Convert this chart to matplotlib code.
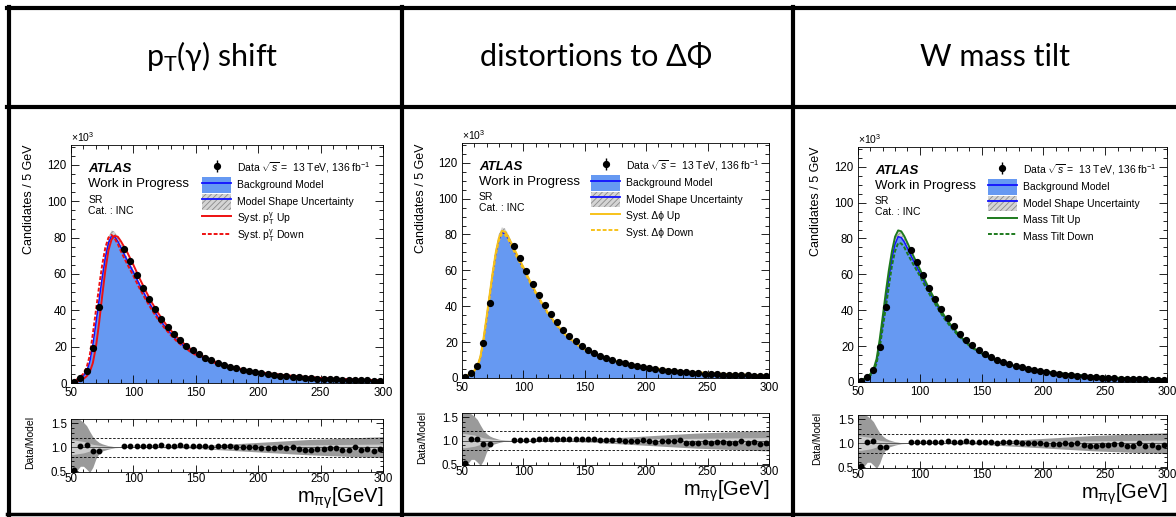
import numpy as np
import matplotlib
matplotlib.use('Agg')
import matplotlib.pyplot as plt
from matplotlib.lines import Line2D
from matplotlib.patches import Patch
from matplotlib.ticker import MultipleLocator

plt.rcParams['font.family'] = ['Liberation Sans', 'DejaVu Sans']
plt.rcParams['mathtext.fontset'] = 'custom'
plt.rcParams['mathtext.rm'] = 'Liberation Sans'
plt.rcParams['mathtext.it'] = 'Liberation Sans:italic'
plt.rcParams['mathtext.bf'] = 'Liberation Sans:bold'
plt.rcParams['hatch.linewidth'] = 0.6

# ---- data (x1000 candidates per 5 GeV bin), blinded bins 75-90 GeV ----
nan = np.nan
bin_centers = np.arange(52.5, 300, 5)
data_vals = [0.5, 2.6, 6.5, 19.5, 42, nan, nan, nan,
             73.5, 67, 59.5, 52.5, 46, 40.5, 35.5, 31, 27, 23.5,
             20.6, 18.0, 15.8, 14.0, 12.5, 11.2, 10.0, 9.0, 8.1, 7.3,
             6.6, 6.0, 5.4, 4.9, 4.5, 4.1, 3.75, 3.45, 3.1, 2.85,
             2.6, 2.45, 2.25, 2.1, 1.95, 1.8, 1.65, 1.6, 1.45, 1.38, 1.28, 1.22]
ratio_vals = [0.52, 1.03, 1.04, 0.93, 0.92, nan, nan, nan,
              1.02, 1.02, 1.02, 1.02, 1.03, 1.03, 1.04, 1.03, 1.03, 1.04,
              1.03, 1.03, 1.03, 1.03, 1.01, 1.02, 1.02, 1.02, 1.00, 1.00,
              1.00, 1.01, 0.99, 0.98, 0.99, 1.00, 0.99, 1.01, 0.96, 0.95,
              0.94, 0.97, 0.96, 0.98, 0.98, 0.95, 0.95, 1.00, 0.94, 0.97, 0.93, 0.96]

# ---- background model curves ----
x_model = [50, 52.5, 55, 57.5, 60, 62.5, 65, 67.5, 70, 72.5, 75, 77.5, 80, 82.5,
           85, 87.5, 90, 95, 100, 105, 110, 115, 120, 125, 130, 135, 140, 145,
           150, 160, 170, 180, 190, 200, 220, 240, 260, 280, 300]
model = [0.3, 1.0, 1.6, 2.55, 4.0, 6.3, 11.5, 21, 33, 45.6, 58, 69, 77, 81,
         80.5, 78, 74.5, 67.5, 61, 54, 47.5, 41.5, 36, 31.3, 27.2, 23.6, 20.6, 18.0,
         15.9, 12.6, 10.2, 8.4, 7.0, 5.9, 4.3, 3.15, 2.35, 1.8, 1.35]
model_unc = [0.1, 0.2, 0.3, 0.4, 0.5, 0.7, 1.0, 1.5, 2.0, 2.5, 2.8, 3.0, 3.0, 3.0,
             2.8, 2.5, 2.2, 1.8, 1.5, 1.3, 1.1, 0.9, 0.8, 0.7, 0.6, 0.5, 0.45, 0.4,
             0.35, 0.3, 0.25, 0.2, 0.18, 0.15, 0.12, 0.1, 0.08, 0.06, 0.05]

pt_up = [0.1, 0.4, 0.8, 1.4, 2.3, 3.7, 6.0, 11, 20, 33, 48, 62, 73, 79,
         81, 80.5, 78, 72, 65, 57.5, 50.5, 44, 38.3, 33.3, 29, 25.2, 22, 19.2,
         16.8, 13.2, 10.6, 8.7, 7.2, 6.0, 4.35, 3.2, 2.4, 1.82, 1.37]
pt_down = [0.4, 1.3, 2.1, 3.3, 5.2, 8.5, 15, 27, 40, 53, 65, 74.5, 80, 81.5,
           79.5, 76.5, 72.5, 65.5, 59, 52, 45.8, 40, 34.8, 30.2, 26.3, 22.8, 20, 17.5,
           15.4, 12.2, 9.9, 8.2, 6.85, 5.8, 4.25, 3.1, 2.3, 1.78, 1.33]
dphi_up = [0.3, 1.0, 1.7, 2.7, 4.2, 6.6, 12, 22, 34, 46.5, 59, 70, 78, 82,
           81.5, 79, 75.5, 68.5, 61.8, 54.6, 48, 42, 36.4, 31.6, 27.5, 23.8, 20.8, 18.2,
           16.0, 12.7, 10.3, 8.45, 7.05, 5.95, 4.32, 3.17, 2.36, 1.81, 1.36]
dphi_down = [0.3, 1.0, 1.6, 2.5, 3.9, 6.1, 11.2, 20.5, 32.5, 45, 57.5, 68.5, 76.5, 80.5,
             80, 77.5, 74, 67, 60.6, 53.7, 47.2, 41.3, 35.8, 31.1, 27.0, 23.5, 20.5, 17.9,
             15.8, 12.5, 10.15, 8.35, 6.97, 5.87, 4.28, 3.13, 2.34, 1.79, 1.34]
tilt_up = [0.35, 1.1, 1.8, 2.85, 4.5, 7.0, 12.8, 23.5, 36.5, 50, 62.5, 73, 81, 84.5,
           84, 81.2, 77.5, 70, 63, 55.6, 48.8, 42.5, 36.8, 31.9, 27.7, 24.0, 20.9, 18.2,
           16.0, 12.6, 10.15, 8.35, 6.95, 5.85, 4.25, 3.1, 2.3, 1.76, 1.32]
tilt_down = [0.25, 0.9, 1.45, 2.3, 3.6, 5.7, 10.3, 19, 30, 41.5, 53.5, 65, 73, 77.5,
             77.2, 75, 71.6, 65.2, 59.2, 52.5, 46.3, 40.5, 35.2, 30.7, 26.7, 23.2, 20.3, 17.8,
             15.8, 12.6, 10.25, 8.45, 7.05, 5.95, 4.35, 3.2, 2.4, 1.84, 1.38]

# ---- ratio panel uncertainty bands ----
x_band = [50, 52.5, 55, 57.5, 60, 62.5, 65, 67.5, 70, 72.5, 75, 80, 85, 90,
          100, 120, 140, 160, 180, 200, 220, 240, 260, 280, 300]
dark_hi = [1.62, 1.62, 1.6, 1.57, 1.52, 1.45, 1.33, 1.22, 1.15, 1.1, 1.07, 1.03, 1.01, 1.005,
           1.005, 1.008, 1.015, 1.04, 1.07, 1.1, 1.13, 1.16, 1.18, 1.2, 1.22]
dark_lo = [0.45, 0.45, 0.52, 0.6, 0.6, 0.54, 0.47, 0.58, 0.76, 0.87, 0.92, 0.96, 0.99, 0.995,
           0.995, 0.992, 0.985, 0.96, 0.93, 0.9, 0.87, 0.84, 0.82, 0.8, 0.78]
light_hi = [1.15, 1.15, 1.14, 1.13, 1.12, 1.1, 1.08, 1.06, 1.05, 1.04, 1.03, 1.02, 1.01, 1.005,
            1.005, 1.01, 1.02, 1.03, 1.035, 1.04, 1.045, 1.05, 1.055, 1.06, 1.065]
light_lo = [0.85, 0.85, 0.86, 0.87, 0.88, 0.9, 0.92, 0.94, 0.95, 0.96, 0.97, 0.98, 0.99, 0.995,
            0.995, 0.99, 0.98, 0.97, 0.965, 0.96, 0.955, 0.95, 0.945, 0.94, 0.935]

headers = ['p$_\\mathregular{T}$(γ) shift', 'distortions to ΔΦ', 'W mass tilt']
header_x = [212, 596, 995]

panels = [
    dict(up=pt_up, down=pt_down, color='#ee1111',
         lab_up='Syst. p$_\\mathregular{T}^\\mathregular{γ}$ Up',
         lab_down='Syst. p$_\\mathregular{T}^\\mathregular{γ}$ Down',
         main=(71, 145, 383, 383), ratio=(71, 419, 383, 472)),
    dict(up=dphi_up, down=dphi_down, color='#f7c21a',
         lab_up='Syst. Δϕ Up', lab_down='Syst. Δϕ Down',
         main=(462, 143, 769, 378), ratio=(462, 413, 769, 465)),
    dict(up=tilt_up, down=tilt_down, color='#1d7a1d',
         lab_up='Mass Tilt Up', lab_down='Mass Tilt Down',
         main=(858, 147, 1167, 382), ratio=(858, 415, 1167, 468)),
]

W, H = 1176, 517
BLUE_FILL = '#6699f2'
BLUE_LINE = '#1010ff'


def box(l, t, r, b):
    return [l / W, 1 - b / H, (r - l) / W, (b - t) / H]


def style_axes(ax, ymajor, yminor):
    ax.set_xlim(50, 300)
    ax.xaxis.set_major_locator(MultipleLocator(50))
    ax.xaxis.set_minor_locator(MultipleLocator(10))
    ax.yaxis.set_major_locator(MultipleLocator(ymajor))
    ax.yaxis.set_minor_locator(MultipleLocator(yminor))
    ax.tick_params(which='both', direction='in', top=True, right=True,
                   labelsize=8.3, width=0.6, pad=3)
    ax.tick_params(which='major', length=6)
    ax.tick_params(which='minor', length=3)
    for s in ax.spines.values():
        s.set_linewidth(0.6)


fig = plt.figure(figsize=(W / 100, H / 100), dpi=100)

# table frame
def hline(y, x0, x1, lw=3):
    fig.add_artist(Line2D([x0 / W, x1 / W], [1 - y / H, 1 - y / H], color='k', lw=lw))

def vline(x, y0, y1, lw=3):
    fig.add_artist(Line2D([x / W, x / W], [1 - y0 / H, 1 - y1 / H], color='k', lw=lw))

hline(8, 7, W)
hline(107, 7, W)
hline(514, 7, W, lw=2.5)
vline(9, 6.5, 517)
vline(402, 6.5, 517)
vline(793, 6.5, 517)

for txt, hx in zip(headers, header_x):
    fig.text(hx / W, 1 - 57 / H, txt, ha='center', va='center', fontsize=22,
             family=['Lato', 'DejaVu Sans'])

for p in panels:
    ax = fig.add_axes(box(*p['main']))
    unc_hi = [m + u for m, u in zip(model, model_unc)]
    unc_lo = [m - u for m, u in zip(model, model_unc)]
    ax.fill_between(x_model, unc_lo, unc_hi, facecolor='#d4d4d4', edgecolor='#8a8a8a',
                    hatch='//////', lw=0)
    ax.fill_between(x_model, 0, model, color=BLUE_FILL, lw=0)
    ax.plot(x_model, model, color=BLUE_LINE, lw=1.1)
    ax.plot(x_model, p['down'], color=p['color'], lw=1.4, ls=(0, (2, 1)))
    ax.plot(x_model, p['up'], color=p['color'], lw=1.4)
    ax.plot(bin_centers, data_vals, 'o', color='k', ms=4.2)
    ax.set_ylim(0, 131)
    style_axes(ax, 20, 5)
    ax.set_ylabel('Candidates / 5 GeV', fontsize=9, loc='top')
    ax.yaxis.set_label_coords(-0.115, 1.0)
    ax.text(0.0, 1.005, '$\\times$10$^3$', transform=ax.transAxes, fontsize=7.5,
            va='bottom', ha='left')
    ax.text(0.055, 0.90, 'ATLAS', transform=ax.transAxes, fontsize=9.5,
            fontweight='bold', fontstyle='italic', va='center')
    ax.text(0.055, 0.835, 'Work in Progress', transform=ax.transAxes, fontsize=9.5,
            va='center')
    ax.text(0.055, 0.77, 'SR', transform=ax.transAxes, fontsize=7.5, va='center')
    ax.text(0.055, 0.724, 'Cat. : INC', transform=ax.transAxes, fontsize=7.5,
            va='center')

    h_data = (Line2D([], [], color='k', marker='|', ms=9, ls='none', mew=1),
              Line2D([], [], color='k', marker='o', ms=4.2, ls='none'))
    h_bkg = (Patch(facecolor=BLUE_FILL, lw=0), Line2D([], [], color=BLUE_LINE, lw=1.3))
    h_unc = (Patch(facecolor='#d4d4d4', edgecolor='#8a8a8a', hatch='//////', lw=0),
             Line2D([], [], color=BLUE_LINE, lw=1.3))
    h_up = Line2D([], [], color=p['color'], lw=1.4)
    h_dn = Line2D([], [], color=p['color'], lw=1.4, ls=(0, (2, 1)))
    ax.legend([h_data, h_bkg, h_unc, h_up, h_dn],
              ['Data $\\sqrt{s}$ =  13 TeV, 136 fb$^{-1}$', 'Background Model',
               'Model Shape Uncertainty', p['lab_up'], p['lab_down']],
              loc='upper left', bbox_to_anchor=(0.42, 0.935), frameon=False,
              fontsize=7.5, handlelength=2.8, handleheight=1.95, handletextpad=0.6,
              labelspacing=0.08, borderpad=0, borderaxespad=0)

    rx = fig.add_axes(box(*p['ratio']))
    rx.fill_between(x_band, dark_lo, dark_hi, color='#9a9a9a', lw=0)
    rx.fill_between(x_band, light_lo, light_hi, color='#cccccc', lw=0)
    rx.axhline(1.0, color='#555555', lw=0.7)
    rx.axhline(0.8, color='k', lw=0.6, ls=(0, (3, 2)))
    rx.axhline(1.2, color='k', lw=0.6, ls=(0, (3, 2)))
    rx.plot(bin_centers, ratio_vals, 'o', color='k', ms=3.2)
    rx.set_ylim(0.48, 1.59)
    style_axes(rx, 0.5, 0.1)
    rx.tick_params(which='major', length=5)
    rx.tick_params(which='minor', length=2.5)
    rx.tick_params(axis='x', pad=0.5)
    rx.set_yticks([0.5, 1.0, 1.5])
    rx.set_yticklabels(['0.5', '1.0', '1.5'])
    rx.set_ylabel('Data/Model', fontsize=7.5, loc='top')
    rx.yaxis.set_label_coords(-0.115, 1.05)
    rx.text(1.0, -0.25, 'm$_\\mathregular{πγ}$[GeV]', transform=rx.transAxes,
            ha='right', va='top', fontsize=14.5)

fig.savefig('out.png', dpi=100)
